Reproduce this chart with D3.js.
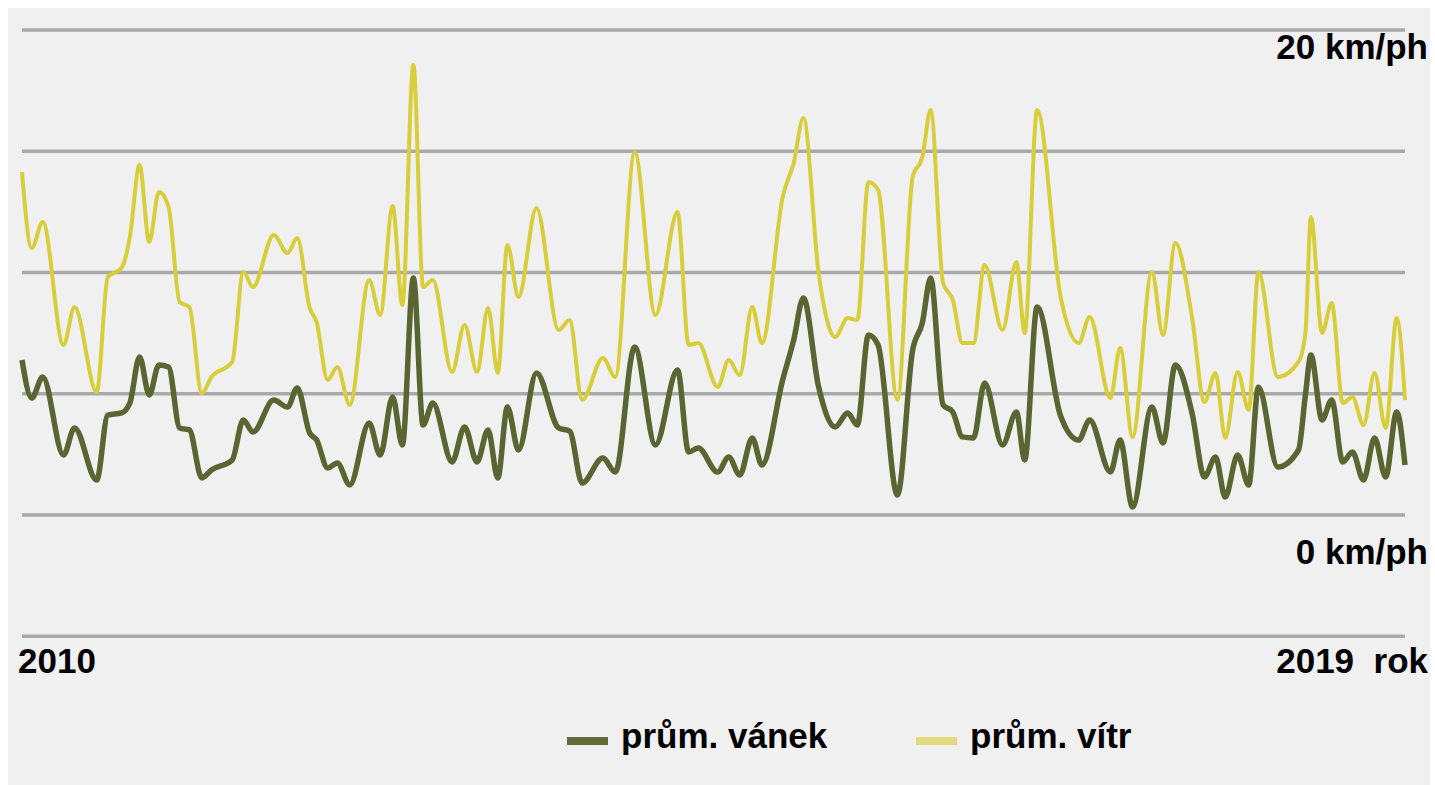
<!DOCTYPE html>
<html>
<head>
<meta charset="utf-8">
<script src="https://cdn.jsdelivr.net/npm/d3@7"></script>
<style>
  html, body { margin: 0; padding: 0; background: #ffffff; }
  svg { display: block; }
  text { font-family: "Liberation Sans", Arial, Helvetica, sans-serif; font-weight: bold; fill: #000; }
</style>
</head>
<body>
<svg id="chart" width="1435" height="785"></svg>
<script>
// ---- data ----
const years = [
  2010.00, 2010.07, 2010.15, 2010.30, 2010.38, 2010.54, 2010.62, 2010.72, 2010.78, 2010.85,
  2010.92, 2010.99, 2011.06, 2011.14, 2011.21, 2011.30, 2011.37, 2011.52, 2011.60, 2011.67,
  2011.82, 2011.92, 2011.99, 2012.08, 2012.13, 2012.21, 2012.28, 2012.37, 2012.51, 2012.59,
  2012.68, 2012.75, 2012.83, 2012.90, 2012.97, 2013.11, 2013.20, 2013.29, 2013.37, 2013.44,
  2013.51, 2013.59, 2013.72, 2013.88, 2013.96, 2014.05, 2014.20, 2014.29, 2014.43, 2014.58,
  2014.74, 2014.82, 2014.89, 2015.03, 2015.11, 2015.19, 2015.28, 2015.35, 2015.50, 2015.58,
  2015.65, 2015.76, 2015.88, 2015.97, 2016.04, 2016.12, 2016.19, 2016.33, 2016.44, 2016.51,
  2016.57, 2016.66, 2016.73, 2016.80, 2016.88, 2016.96, 2017.09, 2017.19, 2017.25, 2017.34,
  2017.51, 2017.64, 2017.72, 2017.87, 2017.94, 2018.03, 2018.17, 2018.25, 2018.34, 2018.46,
  2018.55, 2018.63, 2018.70, 2018.79, 2018.87, 2018.94, 2019.08, 2019.23, 2019.28, 2019.32,
  2019.40, 2019.47, 2019.55, 2019.62, 2019.70, 2019.78, 2019.86, 2019.94, 2020.00
];
// průměrný vítr (km/h)
const vitr = [
  14.14, 11.01, 12.08, 7.01, 8.58, 5.07, 9.81, 10.19, 11.46, 14.43,
  11.26, 13.32, 12.70, 8.78, 8.58, 5.03, 5.69, 6.31, 10.02, 9.40,
  11.55, 10.80, 11.42, 8.54, 7.96, 5.57, 6.10, 4.54, 9.69, 8.25,
  12.74, 8.66, 18.56, 9.40, 9.69, 5.90, 7.84, 5.90, 8.54, 5.86,
  11.13, 8.99, 12.66, 7.63, 8.04, 4.74, 6.47, 5.69, 14.97, 8.25,
  12.49, 7.01, 7.09, 5.28, 6.39, 5.77, 8.58, 7.09, 13.11, 14.52,
  16.37, 9.98, 7.34, 8.12, 8.04, 13.73, 13.40, 4.74, 13.94, 14.76,
  16.70, 9.57, 8.87, 7.09, 7.09, 10.31, 7.63, 10.43, 7.51, 16.70,
  8.99, 7.09, 8.16, 4.82, 6.89, 3.22, 10.02, 7.42, 11.22, 8.16,
  4.66, 5.86, 3.18, 5.90, 4.33, 10.02, 5.69, 6.31, 7.51, 12.29,
  7.51, 8.74, 4.62, 4.87, 3.71, 5.86, 3.59, 8.12, 4.74
];
// průměrný vánek (km/h)
const vanek = [
  6.39, 4.82, 5.69, 2.47, 3.59, 1.44, 4.12, 4.21, 4.62, 6.52,
  4.95, 6.19, 6.10, 3.59, 3.51, 1.53, 1.86, 2.27, 3.92, 3.42,
  4.74, 4.45, 5.24, 3.38, 3.09, 1.94, 2.14, 1.24, 3.79, 2.47,
  4.87, 2.89, 9.77, 3.71, 4.62, 2.19, 3.63, 2.19, 3.51, 1.53,
  4.45, 2.68, 5.86, 3.59, 3.46, 1.32, 2.35, 1.77, 6.93, 2.89,
  5.98, 2.60, 2.76, 1.77, 2.39, 1.65, 3.18, 2.06, 5.57, 7.22,
  8.95, 5.28, 3.63, 4.21, 3.71, 7.42, 7.01, 0.82, 6.80, 7.92,
  9.77, 4.54, 4.25, 3.22, 3.18, 5.44, 2.89, 4.25, 2.27, 8.58,
  4.08, 3.09, 3.92, 1.77, 3.09, 0.33, 4.45, 2.97, 6.19, 4.21,
  1.57, 2.39, 0.74, 2.47, 1.24, 5.28, 1.98, 2.68, 4.95, 6.60,
  3.92, 4.74, 2.19, 2.60, 1.44, 3.18, 1.57, 4.25, 2.06
];
const gridValues = [-5, 0, 5, 10, 15, 20];
const yLabelValues = [20, 0];
const yLabelTexts = ["20 km/ph", "0 km/ph"];
const xLabelValues = [2010, 2020];
const xLabelTexts = ["2010", "2019\u00a0\u00a0rok"];
const seriesNames = ["prům. vánek", "prům. vítr"];
const seriesColors = ["#5b6531", "#d8cd3a"];
const legendColors = ["#636c38", "#e2da7c"];

// ---- drawing ----
const FS = 35;
const svg = d3.select("#chart");
svg.append("rect").attr("x", 8).attr("y", 8).attr("width", 1422).attr("height", 777).attr("fill", "#f0f0f0");

const x = d3.scaleLinear().domain([2010, 2020]).range([22, 1405]);
const y = d3.scaleLinear().domain([0, 20]).range([515, 30]);

svg.append("g").selectAll("line").data(gridValues).join("line")
  .attr("x1", x(2010)).attr("x2", x(2020))
  .attr("y1", d => y(d)).attr("y2", d => y(d))
  .attr("stroke", "#a9a9a9").attr("stroke-width", 3.5);

const line = d3.line().x(d => x(d[0])).y(d => y(d[1])).curve(d3.curveMonotoneX);

const dVitr = years.map((t, i) => [t, vitr[i]]);
const dVanek = years.map((t, i) => [t, vanek[i]]);

svg.append("path").attr("d", line(dVitr)).attr("fill", "none")
  .attr("stroke", seriesColors[1]).attr("stroke-width", 4).attr("stroke-linejoin", "round");
svg.append("path").attr("d", line(dVanek)).attr("fill", "none")
  .attr("stroke", seriesColors[0]).attr("stroke-width", 5.5).attr("stroke-linejoin", "round");

// y labels (right aligned)
svg.append("g").selectAll("text").data(yLabelValues).join("text")
  .attr("x", 1428).attr("y", (d, i) => y(d) + (i === 0 ? 29 : 49))
  .attr("text-anchor", "end").attr("font-size", FS)
  .text((d, i) => yLabelTexts[i]);

// x labels
svg.append("text").attr("x", x(xLabelValues[0]) - 4).attr("y", y(-5) + 37)
  .attr("text-anchor", "start").attr("font-size", FS).text(xLabelTexts[0]);
svg.append("text").attr("x", x(xLabelValues[1]) + 23).attr("y", y(-5) + 37)
  .attr("text-anchor", "end").attr("font-size", FS).text(xLabelTexts[1]);

// legend
const legendX = [567, 916];
const lg = svg.append("g");
seriesNames.forEach((name, i) => {
  lg.append("rect").attr("x", legendX[i]).attr("y", 737).attr("width", 41).attr("height", 8).attr("fill", legendColors[i]);
  lg.append("text").attr("x", legendX[i] + 54).attr("y", 748).attr("font-size", FS).text(name);
});
</script>
</body>
</html>
